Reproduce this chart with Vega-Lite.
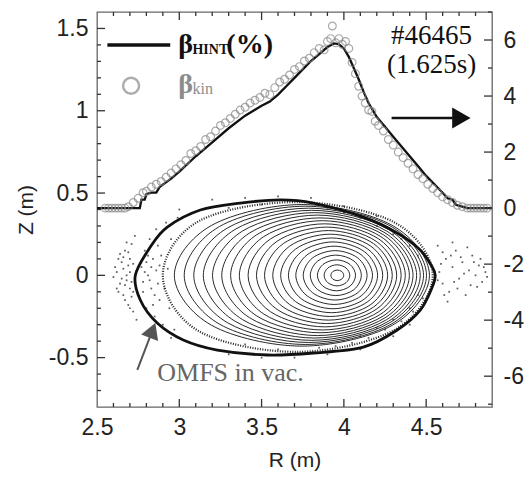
{
"$schema":"https://vega.github.io/schema/vega-lite/v6.json",
"width":395,"height":395,
"autosize":{"type":"none"},
"padding":{"left":97,"top":12,"right":39,"bottom":71},
"background":"white",
"config":{"view":{"stroke":"#666","strokeWidth":1.3},"axis":{"grid":false,"domain":false,"ticks":false,"tickSize":0,"labelFont":"Liberation Sans","labelFontSize":23,"labelColor":"#222","titleFont":"Liberation Sans","titleFontSize":21,"titleFontWeight":"normal","titleColor":"#222","labelOverlap":false,"labelFlush":false}},
"datasets":{
"xmaj":[{"v":3.0},{"v":3.5},{"v":4.0},{"v":4.5}],
"xmin":[{"v":2.6},{"v":2.7},{"v":2.8},{"v":2.9},{"v":3.1},{"v":3.2},{"v":3.3},{"v":3.4},{"v":3.6},{"v":3.7},{"v":3.8},{"v":3.9},{"v":4.1},{"v":4.2},{"v":4.3},{"v":4.4},{"v":4.6},{"v":4.7},{"v":4.8}],
"zmaj":[{"v":-0.5},{"v":0},{"v":0.5},{"v":1.0},{"v":1.5}],
"zmin":[{"v":-0.7},{"v":-0.6},{"v":-0.4},{"v":-0.3},{"v":-0.2},{"v":-0.1},{"v":0.1},{"v":0.2},{"v":0.3},{"v":0.4},{"v":0.6},{"v":0.7},{"v":0.8},{"v":0.9},{"v":1.1},{"v":1.2},{"v":1.3},{"v":1.4}],
"bmaj":[{"v":-6},{"v":-4},{"v":-2},{"v":0},{"v":2},{"v":4},{"v":6}],
"bmin":[{"v":-7},{"v":-5},{"v":-3},{"v":-1},{"v":1},{"v":3},{"v":5},{"v":7}],
"surf":[
{"s":1,"k":0,"R":3.999,"Z":0},{"s":1,"k":1,"R":3.987,"Z":0.023},{"s":1,"k":2,"R":3.960,"Z":0.032},{"s":1,"k":3,"R":3.933,"Z":0.023},{"s":1,"k":4,"R":3.921,"Z":0},{"s":1,"k":5,"R":3.933,"Z":-0.023},{"s":1,"k":6,"R":3.960,"Z":-0.032},{"s":1,"k":7,"R":3.987,"Z":-0.023},
{"s":2,"k":0,"R":4.036,"Z":0},{"s":2,"k":1,"R":4.013,"Z":0.045},{"s":2,"k":2,"R":3.958,"Z":0.064},{"s":2,"k":3,"R":3.903,"Z":0.045},{"s":2,"k":4,"R":3.880,"Z":0},{"s":2,"k":5,"R":3.903,"Z":-0.045},{"s":2,"k":6,"R":3.958,"Z":-0.064},{"s":2,"k":7,"R":4.013,"Z":-0.045},
{"s":3,"k":0,"R":4.071,"Z":0},{"s":3,"k":1,"R":4.037,"Z":0.066},{"s":3,"k":2,"R":3.955,"Z":0.094},{"s":3,"k":3,"R":3.873,"Z":0.066},{"s":3,"k":4,"R":3.839,"Z":0},{"s":3,"k":5,"R":3.873,"Z":-0.066},{"s":3,"k":6,"R":3.955,"Z":-0.094},{"s":3,"k":7,"R":4.037,"Z":-0.066},
{"s":4,"k":0,"R":4.106,"Z":0},{"s":4,"k":1,"R":4.061,"Z":0.087},{"s":4,"k":2,"R":3.951,"Z":0.123},{"s":4,"k":3,"R":3.841,"Z":0.087},{"s":4,"k":4,"R":3.796,"Z":0},{"s":4,"k":5,"R":3.841,"Z":-0.087},{"s":4,"k":6,"R":3.951,"Z":-0.123},{"s":4,"k":7,"R":4.061,"Z":-0.087},
{"s":5,"k":0,"R":4.141,"Z":0},{"s":5,"k":1,"R":4.084,"Z":0.106},{"s":5,"k":2,"R":3.947,"Z":0.150},{"s":5,"k":3,"R":3.810,"Z":0.106},{"s":5,"k":4,"R":3.753,"Z":0},{"s":5,"k":5,"R":3.810,"Z":-0.106},{"s":5,"k":6,"R":3.947,"Z":-0.150},{"s":5,"k":7,"R":4.084,"Z":-0.106},
{"s":6,"k":0,"R":4.174,"Z":0},{"s":6,"k":1,"R":4.105,"Z":0.125},{"s":6,"k":2,"R":3.941,"Z":0.177},{"s":6,"k":3,"R":3.777,"Z":0.125},{"s":6,"k":4,"R":3.708,"Z":0},{"s":6,"k":5,"R":3.777,"Z":-0.125},{"s":6,"k":6,"R":3.941,"Z":-0.177},{"s":6,"k":7,"R":4.105,"Z":-0.125},
{"s":7,"k":0,"R":4.205,"Z":0},{"s":7,"k":1,"R":4.126,"Z":0.143},{"s":7,"k":2,"R":3.934,"Z":0.203},{"s":7,"k":3,"R":3.742,"Z":0.143},{"s":7,"k":4,"R":3.663,"Z":0},{"s":7,"k":5,"R":3.742,"Z":-0.143},{"s":7,"k":6,"R":3.934,"Z":-0.203},{"s":7,"k":7,"R":4.126,"Z":-0.143},
{"s":8,"k":0,"R":4.236,"Z":0},{"s":8,"k":1,"R":4.145,"Z":0.160},{"s":8,"k":2,"R":3.926,"Z":0.227},{"s":8,"k":3,"R":3.707,"Z":0.160},{"s":8,"k":4,"R":3.616,"Z":0},{"s":8,"k":5,"R":3.707,"Z":-0.160},{"s":8,"k":6,"R":3.926,"Z":-0.227},{"s":8,"k":7,"R":4.145,"Z":-0.160},
{"s":9,"k":0,"R":4.266,"Z":0},{"s":9,"k":1,"R":4.164,"Z":0.177},{"s":9,"k":2,"R":3.917,"Z":0.250},{"s":9,"k":3,"R":3.670,"Z":0.177},{"s":9,"k":4,"R":3.568,"Z":0},{"s":9,"k":5,"R":3.670,"Z":-0.177},{"s":9,"k":6,"R":3.917,"Z":-0.250},{"s":9,"k":7,"R":4.164,"Z":-0.177},
{"s":10,"k":0,"R":4.294,"Z":0},{"s":10,"k":1,"R":4.180,"Z":0.193},{"s":10,"k":2,"R":3.906,"Z":0.272},{"s":10,"k":3,"R":3.632,"Z":0.193},{"s":10,"k":4,"R":3.518,"Z":0},{"s":10,"k":5,"R":3.632,"Z":-0.193},{"s":10,"k":6,"R":3.906,"Z":-0.272},{"s":10,"k":7,"R":4.180,"Z":-0.193},
{"s":11,"k":0,"R":4.321,"Z":0},{"s":11,"k":1,"R":4.196,"Z":0.207},{"s":11,"k":2,"R":3.895,"Z":0.293},{"s":11,"k":3,"R":3.594,"Z":0.207},{"s":11,"k":4,"R":3.469,"Z":0},{"s":11,"k":5,"R":3.594,"Z":-0.207},{"s":11,"k":6,"R":3.895,"Z":-0.293},{"s":11,"k":7,"R":4.196,"Z":-0.207},
{"s":12,"k":0,"R":4.348,"Z":0},{"s":12,"k":1,"R":4.212,"Z":0.221},{"s":12,"k":2,"R":3.883,"Z":0.313},{"s":12,"k":3,"R":3.554,"Z":0.221},{"s":12,"k":4,"R":3.418,"Z":0},{"s":12,"k":5,"R":3.554,"Z":-0.221},{"s":12,"k":6,"R":3.883,"Z":-0.313},{"s":12,"k":7,"R":4.212,"Z":-0.221},
{"s":13,"k":0,"R":4.373,"Z":0},{"s":13,"k":1,"R":4.225,"Z":0.235},{"s":13,"k":2,"R":3.869,"Z":0.332},{"s":13,"k":3,"R":3.513,"Z":0.235},{"s":13,"k":4,"R":3.365,"Z":0},{"s":13,"k":5,"R":3.513,"Z":-0.235},{"s":13,"k":6,"R":3.869,"Z":-0.332},{"s":13,"k":7,"R":4.225,"Z":-0.235},
{"s":14,"k":0,"R":4.398,"Z":0},{"s":14,"k":1,"R":4.239,"Z":0.247},{"s":14,"k":2,"R":3.855,"Z":0.349},{"s":14,"k":3,"R":3.471,"Z":0.247},{"s":14,"k":4,"R":3.312,"Z":0},{"s":14,"k":5,"R":3.471,"Z":-0.247},{"s":14,"k":6,"R":3.855,"Z":-0.349},{"s":14,"k":7,"R":4.239,"Z":-0.247},
{"s":15,"k":0,"R":4.420,"Z":0},{"s":15,"k":1,"R":4.250,"Z":0.258},{"s":15,"k":2,"R":3.839,"Z":0.366},{"s":15,"k":3,"R":3.428,"Z":0.258},{"s":15,"k":4,"R":3.258,"Z":0},{"s":15,"k":5,"R":3.428,"Z":-0.258},{"s":15,"k":6,"R":3.839,"Z":-0.366},{"s":15,"k":7,"R":4.250,"Z":-0.258},
{"s":16,"k":0,"R":4.442,"Z":0},{"s":16,"k":1,"R":4.260,"Z":0.269},{"s":16,"k":2,"R":3.822,"Z":0.381},{"s":16,"k":3,"R":3.384,"Z":0.269},{"s":16,"k":4,"R":3.202,"Z":0},{"s":16,"k":5,"R":3.384,"Z":-0.269},{"s":16,"k":6,"R":3.822,"Z":-0.381},{"s":16,"k":7,"R":4.260,"Z":-0.269},
{"s":17,"k":0,"R":4.464,"Z":0},{"s":17,"k":1,"R":4.271,"Z":0.279},{"s":17,"k":2,"R":3.805,"Z":0.395},{"s":17,"k":3,"R":3.339,"Z":0.279},{"s":17,"k":4,"R":3.146,"Z":0},{"s":17,"k":5,"R":3.339,"Z":-0.279},{"s":17,"k":6,"R":3.805,"Z":-0.395},{"s":17,"k":7,"R":4.271,"Z":-0.279},
{"s":18,"k":0,"R":4.484,"Z":0},{"s":18,"k":1,"R":4.279,"Z":0.288},{"s":18,"k":2,"R":3.786,"Z":0.408},{"s":18,"k":3,"R":3.293,"Z":0.288},{"s":18,"k":4,"R":3.088,"Z":0},{"s":18,"k":5,"R":3.293,"Z":-0.288},{"s":18,"k":6,"R":3.786,"Z":-0.408},{"s":18,"k":7,"R":4.279,"Z":-0.288},
{"s":19,"k":0,"R":4.502,"Z":0},{"s":19,"k":1,"R":4.287,"Z":0.297},{"s":19,"k":2,"R":3.766,"Z":0.420},{"s":19,"k":3,"R":3.245,"Z":0.297},{"s":19,"k":4,"R":3.030,"Z":0},{"s":19,"k":5,"R":3.245,"Z":-0.297},{"s":19,"k":6,"R":3.766,"Z":-0.420},{"s":19,"k":7,"R":4.287,"Z":-0.297},
{"s":20,"k":0,"R":4.520,"Z":0},{"s":20,"k":1,"R":4.293,"Z":0.304},{"s":20,"k":2,"R":3.745,"Z":0.430},{"s":20,"k":3,"R":3.197,"Z":0.304},{"s":20,"k":4,"R":2.970,"Z":0},{"s":20,"k":5,"R":3.197,"Z":-0.304},{"s":20,"k":6,"R":3.745,"Z":-0.430},{"s":20,"k":7,"R":4.293,"Z":-0.304}
],
"band":[
{"k":0,"R":4.54,"Z":0},{"k":1,"R":4.31,"Z":0.32},{"k":2,"R":3.72,"Z":0.445},{"k":3,"R":3.12,"Z":0.33},{"k":4,"R":2.90,"Z":0},{"k":5,"R":3.12,"Z":-0.34},{"k":6,"R":3.72,"Z":-0.465},{"k":7,"R":4.31,"Z":-0.33}
],
"lcfs":[
{"k":0,"R":2.733,"Z":0},{"k":1,"R":2.763,"Z":-0.150},{"k":2,"R":2.866,"Z":-0.290},{"k":3,"R":3.024,"Z":-0.393},{"k":4,"R":3.231,"Z":-0.454},{"k":5,"R":3.534,"Z":-0.484},{"k":6,"R":3.814,"Z":-0.472},{"k":7,"R":4.118,"Z":-0.436},{"k":8,"R":4.324,"Z":-0.332},{"k":9,"R":4.464,"Z":-0.211},{"k":10,"R":4.537,"Z":-0.071},{"k":11,"R":4.555,"Z":0},{"k":12,"R":4.537,"Z":0.050},{"k":13,"R":4.464,"Z":0.154},{"k":14,"R":4.324,"Z":0.257},{"k":15,"R":4.118,"Z":0.354},{"k":16,"R":3.814,"Z":0.439},{"k":17,"R":3.613,"Z":0.458},{"k":18,"R":3.371,"Z":0.439},{"k":19,"R":3.128,"Z":0.397},{"k":20,"R":2.927,"Z":0.293},{"k":21,"R":2.824,"Z":0.172}
],
"dots":[
{"R":2.62,"Z":0.02},{"R":2.64,"Z":-0.05},{"R":2.65,"Z":0.08},{"R":2.66,"Z":-0.12},{"R":2.67,"Z":0.15},{"R":2.68,"Z":0.0},{"R":2.69,"Z":-0.18},{"R":2.70,"Z":0.1},{"R":2.70,"Z":-0.08},{"R":2.71,"Z":0.19},{"R":2.72,"Z":-0.22},{"R":2.63,"Z":0.1},{"R":2.66,"Z":0.04},{"R":2.68,"Z":-0.03},{"R":2.60,"Z":-0.01},{"R":2.67,"Z":-0.15},{"R":2.69,"Z":0.06},{"R":2.71,"Z":-0.13},{"R":2.64,"Z":0.13},{"R":2.73,"Z":0.24},
{"R":2.61,"Z":0.05},{"R":2.62,"Z":-0.08},{"R":2.65,"Z":-0.02},{"R":2.66,"Z":0.11},{"R":2.67,"Z":-0.06},{"R":2.69,"Z":0.14},{"R":2.70,"Z":0.02},{"R":2.71,"Z":-0.04},{"R":2.72,"Z":0.07},{"R":2.72,"Z":-0.1},{"R":2.68,"Z":0.2},{"R":2.70,"Z":-0.2},{"R":2.74,"Z":-0.27},{"R":2.63,"Z":-0.1},
{"R":2.77,"Z":0.05},{"R":2.78,"Z":-0.1},{"R":2.79,"Z":0.15},{"R":2.80,"Z":-0.2},{"R":2.81,"Z":0.0},{"R":2.82,"Z":0.22},{"R":2.83,"Z":-0.08},{"R":2.84,"Z":0.1},{"R":2.85,"Z":-0.25},{"R":2.86,"Z":0.03},{"R":2.87,"Z":0.18},{"R":2.88,"Z":-0.15},{"R":2.79,"Z":0.02},{"R":2.82,"Z":-0.03},{"R":2.84,"Z":-0.18},{"R":2.86,"Z":0.28},{"R":2.80,"Z":0.08},{"R":2.88,"Z":0.06},{"R":2.90,"Z":-0.3},{"R":2.92,"Z":0.32},
{"R":2.78,"Z":-0.04},{"R":2.81,"Z":0.12},{"R":2.83,"Z":0.05},{"R":2.85,"Z":-0.12},{"R":2.87,"Z":-0.05},{"R":2.89,"Z":0.12},{"R":2.91,"Z":-0.08},{"R":2.93,"Z":0.04},{"R":2.94,"Z":-0.2},{"R":2.95,"Z":0.22},{"R":2.97,"Z":-0.33},{"R":2.99,"Z":0.35},
{"R":4.58,"Z":0.02},{"R":4.60,"Z":-0.05},{"R":4.62,"Z":0.1},{"R":4.64,"Z":-0.1},{"R":4.66,"Z":0.05},{"R":4.68,"Z":0.15},{"R":4.70,"Z":-0.02},{"R":4.72,"Z":0.08},{"R":4.74,"Z":-0.12},{"R":4.76,"Z":0.03},{"R":4.78,"Z":0.12},{"R":4.80,"Z":0.0},{"R":4.82,"Z":0.06},{"R":4.84,"Z":-0.04},{"R":4.86,"Z":0.02},{"R":4.60,"Z":0.14},{"R":4.63,"Z":-0.16},{"R":4.57,"Z":0.18},{"R":4.69,"Z":-0.08},{"R":4.75,"Z":0.17},{"R":4.81,"Z":-0.07},{"R":4.66,"Z":0.2},
{"R":4.57,"Z":-0.03},{"R":4.59,"Z":0.07},{"R":4.61,"Z":-0.12},{"R":4.65,"Z":0.12},{"R":4.67,"Z":-0.04},{"R":4.71,"Z":0.11},{"R":4.73,"Z":0.01},{"R":4.77,"Z":-0.06},{"R":4.79,"Z":0.08},{"R":4.83,"Z":0.1},{"R":4.85,"Z":0.05},{"R":4.87,"Z":-0.01},
{"R":3.0,"Z":0.40},{"R":3.2,"Z":0.46},{"R":3.4,"Z":0.47},{"R":3.6,"Z":0.48},{"R":3.8,"Z":0.47},{"R":4.0,"Z":0.42},{"R":4.2,"Z":0.36},{"R":3.3,"Z":-0.48},{"R":3.5,"Z":-0.50},{"R":3.7,"Z":-0.50},{"R":3.9,"Z":-0.48},{"R":4.1,"Z":-0.45},{"R":4.3,"Z":-0.37},{"R":4.4,"Z":-0.30},{"R":2.95,"Z":-0.38},
{"R":4.0,"Z":-0.40},{"R":4.1,"Z":-0.37},{"R":4.2,"Z":-0.32},{"R":4.3,"Z":-0.27},{"R":4.4,"Z":-0.2},{"R":4.45,"Z":-0.12},{"R":4.0,"Z":0.38},{"R":4.2,"Z":0.3},{"R":4.35,"Z":0.22},{"R":4.45,"Z":0.12},{"R":3.4,"Z":-0.42},{"R":3.6,"Z":-0.45},{"R":3.3,"Z":0.41},{"R":3.5,"Z":0.43},
{"R":3.85,"Z":-0.44},{"R":3.95,"Z":-0.43},{"R":4.05,"Z":-0.41},{"R":4.15,"Z":-0.38},{"R":4.25,"Z":-0.33},{"R":4.35,"Z":-0.28},{"R":4.42,"Z":-0.22},{"R":4.48,"Z":-0.14},{"R":3.9,"Z":0.41},{"R":4.1,"Z":0.35},{"R":4.3,"Z":0.25},{"R":4.4,"Z":0.18}
],
"hint":[
{"R":2.50,"b":0},{"R":2.76,"b":0},{"R":2.77,"b":0.3},{"R":2.79,"b":0.3},{"R":2.80,"b":0.5},{"R":2.83,"b":0.55},{"R":2.86,"b":0.55},{"R":2.88,"b":0.75},{"R":2.95,"b":1.05},{"R":3.0,"b":1.3},{"R":3.1,"b":1.85},{"R":3.2,"b":2.35},{"R":3.3,"b":2.85},{"R":3.4,"b":3.3},{"R":3.5,"b":3.65},{"R":3.55,"b":3.8},{"R":3.6,"b":4.05},{"R":3.65,"b":4.35},{"R":3.7,"b":4.65},{"R":3.75,"b":4.95},{"R":3.8,"b":5.25},{"R":3.85,"b":5.5},{"R":3.9,"b":5.75},{"R":3.94,"b":5.88},{"R":3.97,"b":5.85},{"R":4.0,"b":5.7},{"R":4.03,"b":5.4},{"R":4.06,"b":5.0},{"R":4.09,"b":4.6},{"R":4.12,"b":4.15},{"R":4.15,"b":3.75},{"R":4.2,"b":3.25},{"R":4.25,"b":2.9},{"R":4.3,"b":2.55},{"R":4.35,"b":2.2},{"R":4.4,"b":1.85},{"R":4.45,"b":1.5},{"R":4.5,"b":1.15},{"R":4.55,"b":0.85},{"R":4.6,"b":0.55},{"R":4.63,"b":0.35},{"R":4.66,"b":0.3},{"R":4.68,"b":0.12},{"R":4.72,"b":0.05},{"R":4.75,"b":0},{"R":4.9,"b":0}
],
"kin":[
{"R":2.55,"b":0},{"R":2.57,"b":0},{"R":2.59,"b":0},{"R":2.61,"b":0},{"R":2.63,"b":0},{"R":2.65,"b":0},{"R":2.67,"b":0},{"R":2.69,"b":0.05},{"R":2.72,"b":0.2},{"R":2.75,"b":0.35},{"R":2.78,"b":0.55},{"R":2.80,"b":0.6},{"R":2.83,"b":0.75},{"R":2.86,"b":0.85},{"R":2.89,"b":0.95},{"R":2.92,"b":1.1},{"R":2.95,"b":1.25},{"R":2.98,"b":1.4},{"R":3.01,"b":1.55},{"R":3.04,"b":1.7},{"R":3.07,"b":1.95},{"R":3.10,"b":2.05},{"R":3.13,"b":2.2},{"R":3.16,"b":2.45},{"R":3.19,"b":2.55},{"R":3.22,"b":2.75},{"R":3.25,"b":2.95},{"R":3.28,"b":3.05},{"R":3.31,"b":3.2},{"R":3.34,"b":3.35},{"R":3.37,"b":3.5},{"R":3.40,"b":3.6},{"R":3.43,"b":3.75},{"R":3.46,"b":3.85},{"R":3.49,"b":3.95},{"R":3.52,"b":4.1},{"R":3.55,"b":4.05},{"R":3.58,"b":4.3},{"R":3.61,"b":4.5},{"R":3.64,"b":4.6},{"R":3.67,"b":4.75},{"R":3.70,"b":4.95},{"R":3.73,"b":5.05},{"R":3.76,"b":5.25},{"R":3.79,"b":5.35},{"R":3.82,"b":5.55},{"R":3.85,"b":5.7},{"R":3.88,"b":5.65},{"R":3.90,"b":5.95},{"R":3.92,"b":6.05},{"R":3.93,"b":6.5},{"R":3.95,"b":5.9},{"R":3.97,"b":6.05},{"R":3.99,"b":5.85},{"R":4.01,"b":5.95},{"R":4.03,"b":5.7},{"R":4.05,"b":5.2},{"R":4.07,"b":4.8},{"R":4.09,"b":4.35},{"R":4.11,"b":4.0},{"R":4.13,"b":3.75},{"R":4.15,"b":3.5},{"R":4.17,"b":3.45},{"R":4.19,"b":3.1},{"R":4.21,"b":2.95},{"R":4.24,"b":2.75},{"R":4.27,"b":2.45},{"R":4.30,"b":2.25},{"R":4.33,"b":2.0},{"R":4.36,"b":1.8},{"R":4.39,"b":1.6},{"R":4.42,"b":1.4},{"R":4.45,"b":1.2},{"R":4.48,"b":1.05},{"R":4.51,"b":0.85},{"R":4.54,"b":0.7},{"R":4.57,"b":0.55},{"R":4.60,"b":0.4},{"R":4.63,"b":0.3},{"R":4.66,"b":0.2},{"R":4.69,"b":0.1},{"R":4.72,"b":0.05},{"R":4.75,"b":0},{"R":4.77,"b":0},{"R":4.79,"b":0},{"R":4.81,"b":0},{"R":4.83,"b":0},{"R":4.85,"b":0},{"R":4.87,"b":0}
]
},
"layer":[
{"data":{"name":"surf"},
 "mark":{"type":"line","interpolate":"cardinal-closed","color":"#111","strokeWidth":0.9},
 "encoding":{
  "x":{"field":"R","type":"quantitative","scale":{"domain":[2.5,4.9],"nice":false,"zero":false},
   "axis":{"orient":"bottom","title":"R (m)","titlePadding":10,"values":[2.5,3,3.5,4,4.5],"labelExpr":"toString(datum.value)","labelPadding":9}},
  "y":{"field":"Z","type":"quantitative","scale":{"domain":[-0.8,1.6],"nice":false,"zero":false},
   "axis":{"orient":"left","title":"Z (m)","titlePadding":12,"values":[-0.5,0,0.5,1,1.5],"labelExpr":"toString(datum.value)","labelPadding":9}},
  "detail":{"field":"s","type":"nominal"},
  "order":{"field":"k","type":"quantitative"}}},
{"data":{"name":"band"},
 "mark":{"type":"line","interpolate":"cardinal-closed","color":"#222","strokeWidth":2.2,"strokeDash":[1,1.5]},
 "encoding":{"x":{"field":"R","type":"quantitative"},"y":{"field":"Z","type":"quantitative","scale":{"domain":[-0.8,1.6]},"axis":null},"order":{"field":"k","type":"quantitative"}}},
{"data":{"name":"dots"},
 "mark":{"type":"point","shape":"square","filled":true,"size":3,"color":"#333","opacity":0.8},
 "encoding":{"x":{"field":"R","type":"quantitative"},"y":{"field":"Z","type":"quantitative","scale":{"domain":[-0.8,1.6]},"axis":null}}},
{"data":{"name":"lcfs"},
 "mark":{"type":"line","interpolate":"cardinal-closed","color":"#111","strokeWidth":2.8},
 "encoding":{"x":{"field":"R","type":"quantitative"},"y":{"field":"Z","type":"quantitative","scale":{"domain":[-0.8,1.6]},"axis":null},"order":{"field":"k","type":"quantitative"}}},
{"data":{"name":"hint"},
 "mark":{"type":"line","color":"#111","strokeWidth":2.3},
 "encoding":{"x":{"field":"R","type":"quantitative"},
  "y":{"field":"b","type":"quantitative","scale":{"domain":[-7.1,7.0],"nice":false,"zero":false},
   "axis":{"orient":"right","title":null,"values":[-6,-4,-2,0,2,4,6],"labelExpr":"toString(datum.value)","labelPadding":11}}}},
{"data":{"name":"kin"},
 "mark":{"type":"point","shape":"circle","filled":false,"size":60,"stroke":"#888","strokeWidth":1.2},
 "encoding":{"x":{"field":"R","type":"quantitative"},"y":{"field":"b","type":"quantitative","scale":{"domain":[-7.1,7.0]},"axis":null}}},
{"data":{"name":"xmaj"},"mark":{"type":"rule","color":"#333","strokeWidth":1.3},
 "encoding":{"x":{"field":"v","type":"quantitative"},"y":{"datum":1.6,"type":"quantitative","scale":{"domain":[-0.8,1.6]},"axis":null},"y2":{"datum":1.5514}}},
{"data":{"name":"xmin"},"mark":{"type":"rule","color":"#333","strokeWidth":1.3},
 "encoding":{"x":{"field":"v","type":"quantitative"},"y":{"datum":1.6,"type":"quantitative","scale":{"domain":[-0.8,1.6]},"axis":null},"y2":{"datum":1.5757}}},
{"data":{"name":"xmaj"},"mark":{"type":"rule","color":"#333","strokeWidth":1.3},
 "encoding":{"x":{"field":"v","type":"quantitative"},"y":{"datum":-0.8,"type":"quantitative","scale":{"domain":[-0.8,1.6]},"axis":null},"y2":{"datum":-0.7514}}},
{"data":{"name":"xmin"},"mark":{"type":"rule","color":"#333","strokeWidth":1.3},
 "encoding":{"x":{"field":"v","type":"quantitative"},"y":{"datum":-0.8,"type":"quantitative","scale":{"domain":[-0.8,1.6]},"axis":null},"y2":{"datum":-0.7757}}},
{"data":{"name":"zmaj"},"mark":{"type":"rule","color":"#333","strokeWidth":1.3},
 "encoding":{"y":{"field":"v","type":"quantitative","scale":{"domain":[-0.8,1.6]},"axis":null},"x":{"datum":2.5,"type":"quantitative"},"x2":{"datum":2.5486}}},
{"data":{"name":"zmin"},"mark":{"type":"rule","color":"#333","strokeWidth":1.3},
 "encoding":{"y":{"field":"v","type":"quantitative","scale":{"domain":[-0.8,1.6]},"axis":null},"x":{"datum":2.5,"type":"quantitative"},"x2":{"datum":2.5243}}},
{"data":{"name":"bmaj"},"mark":{"type":"rule","color":"#333","strokeWidth":1.3},
 "encoding":{"y":{"field":"v","type":"quantitative","scale":{"domain":[-7.1,7.0]},"axis":null},"x":{"datum":4.9,"type":"quantitative"},"x2":{"datum":4.8514}}},
{"data":{"name":"bmin"},"mark":{"type":"rule","color":"#333","strokeWidth":1.3},
 "encoding":{"y":{"field":"v","type":"quantitative","scale":{"domain":[-7.1,7.0]},"axis":null},"x":{"datum":4.9,"type":"quantitative"},"x2":{"datum":4.8757}}},
{"data":{"values":[{"R":2.563,"R2":2.945,"Z":1.40}]},
 "mark":{"type":"rule","color":"#111","strokeWidth":3.5},
 "encoding":{"x":{"field":"R","type":"quantitative"},"x2":{"field":"R2"},"y":{"field":"Z","type":"quantitative","scale":{"domain":[-0.8,1.6]},"axis":null}}},
{"data":{"values":[{"R":2.707,"Z":1.152}]},
 "mark":{"type":"point","shape":"circle","filled":false,"size":256,"stroke":"#8a8a8a","strokeWidth":2.4},
 "encoding":{"x":{"field":"R","type":"quantitative"},"y":{"field":"Z","type":"quantitative","scale":{"domain":[-0.8,1.6]},"axis":null}}},
{"data":{"values":[{"R":2.994,"Z":1.351,"t":"β"},{"R":3.286,"Z":1.351,"t":"(%)"}]},
 "mark":{"type":"text","font":"Liberation Serif","fontSize":28,"fontWeight":"bold","align":"left","baseline":"alphabetic","color":"#111"},
 "encoding":{"x":{"field":"R","type":"quantitative"},"y":{"field":"Z","type":"quantitative","scale":{"domain":[-0.8,1.6]},"axis":null},"text":{"field":"t"}}},
{"data":{"values":[{"R":3.080,"Z":1.343,"t":"HINT"}]},
 "mark":{"type":"text","font":"Liberation Serif","fontSize":14,"fontWeight":"bold","align":"left","baseline":"alphabetic","color":"#111"},
 "encoding":{"x":{"field":"R","type":"quantitative"},"y":{"field":"Z","type":"quantitative","scale":{"domain":[-0.8,1.6]},"axis":null},"text":{"field":"t"}}},
{"data":{"values":[{"R":2.994,"Z":1.108,"t":"β"}]},
 "mark":{"type":"text","font":"Liberation Serif","fontSize":28,"fontWeight":"bold","align":"left","baseline":"alphabetic","color":"#8c8c8c"},
 "encoding":{"x":{"field":"R","type":"quantitative"},"y":{"field":"Z","type":"quantitative","scale":{"domain":[-0.8,1.6]},"axis":null},"text":{"field":"t"}}},
{"data":{"values":[{"R":3.080,"Z":1.100,"t":"kin"}]},
 "mark":{"type":"text","font":"Liberation Serif","fontSize":16,"align":"left","baseline":"alphabetic","color":"#8c8c8c"},
 "encoding":{"x":{"field":"R","type":"quantitative"},"y":{"field":"Z","type":"quantitative","scale":{"domain":[-0.8,1.6]},"axis":null},"text":{"field":"t"}}},
{"data":{"values":[{"R":4.533,"Z":1.406,"t":"#46465"},{"R":4.533,"Z":1.229,"t":"(1.625s)"}]},
 "mark":{"type":"text","font":"Liberation Serif","fontSize":27,"align":"center","baseline":"alphabetic","color":"#111"},
 "encoding":{"x":{"field":"R","type":"quantitative"},"y":{"field":"Z","type":"quantitative","scale":{"domain":[-0.8,1.6]},"axis":null},"text":{"field":"t"}}},
{"data":{"values":[{"R":2.866,"Z":-0.642,"t":"OMFS in vac."}]},
 "mark":{"type":"text","font":"Liberation Serif","fontSize":26,"align":"left","baseline":"alphabetic","color":"#666"},
 "encoding":{"x":{"field":"R","type":"quantitative"},"y":{"field":"Z","type":"quantitative","scale":{"domain":[-0.8,1.6]},"axis":null},"text":{"field":"t"}}},
{"data":{"values":[{"R":4.29,"R2":4.68,"Z":0.956}]},
 "mark":{"type":"rule","color":"#111","strokeWidth":2.5},
 "encoding":{"x":{"field":"R","type":"quantitative"},"x2":{"field":"R2"},"y":{"field":"Z","type":"quantitative","scale":{"domain":[-0.8,1.6]},"axis":null}}},
{"data":{"values":[{"R":4.714,"Z":0.956}]},
 "mark":{"type":"point","shape":"triangle-right","filled":true,"size":450,"color":"#111","opacity":1},
 "encoding":{"x":{"field":"R","type":"quantitative"},"y":{"field":"Z","type":"quantitative","scale":{"domain":[-0.8,1.6]},"axis":null}}},
{"data":{"values":[{"R":2.745,"Z":-0.575,"R2":2.837,"Z2":-0.334}]},
 "mark":{"type":"rule","color":"#555","strokeWidth":2},
 "encoding":{"x":{"field":"R","type":"quantitative"},"x2":{"field":"R2"},"y":{"field":"Z","type":"quantitative","scale":{"domain":[-0.8,1.6]},"axis":null},"y2":{"field":"Z2"}}},
{"data":{"values":[{"R":2.837,"Z":-0.334}]},
 "mark":{"type":"point","shape":"triangle-up","filled":true,"size":330,"angle":21,"color":"#555","opacity":1},
 "encoding":{"x":{"field":"R","type":"quantitative"},"y":{"field":"Z","type":"quantitative","scale":{"domain":[-0.8,1.6]},"axis":null}}}
],
"resolve":{"scale":{"y":"independent"},"axis":{"y":"independent"}}
}
